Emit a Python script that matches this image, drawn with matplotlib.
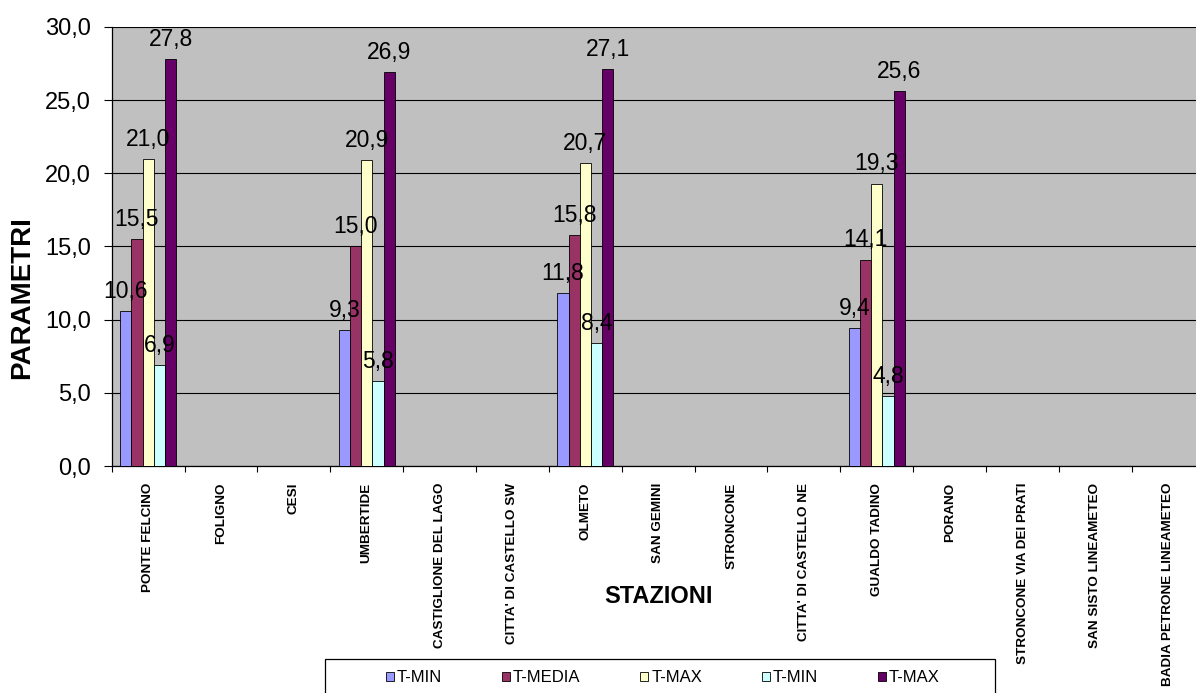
import numpy as np
import matplotlib.pyplot as plt
from matplotlib.patches import Patch, Rectangle

plt.rcParams['font.family'] = ['Liberation Sans', 'DejaVu Sans']

# stations on the x axis
stations = ["PONTE FELCINO", "FOLIGNO", "CESI", "UMBERTIDE", "CASTIGLIONE DEL LAGO",
            "CITTA' DI CASTELLO SW", "OLMETO", "SAN GEMINI", "STRONCONE",
            "CITTA' DI CASTELLO NE", "GUALDO TADINO", "PORANO",
            "STRONCONE VIA DEI PRATI", "SAN SISTO LINEAMETEO", "BADIA PETRONE LINEAMETEO"]

nan = np.nan
# values per series (empty stations = nan)
t_min   = [10.6, nan, nan, 9.3, nan, nan, 11.8, nan, nan, nan, 9.4, nan, nan, nan, nan]
t_media = [15.5, nan, nan, 15.0, nan, nan, 15.8, nan, nan, nan, 14.1, nan, nan, nan, nan]
t_max   = [21.0, nan, nan, 20.9, nan, nan, 20.7, nan, nan, nan, 19.3, nan, nan, nan, nan]
t_min2  = [6.9, nan, nan, 5.8, nan, nan, 8.4, nan, nan, nan, 4.8, nan, nan, nan, nan]
t_max2  = [27.8, nan, nan, 26.9, nan, nan, 27.1, nan, nan, nan, 25.6, nan, nan, nan, nan]

series_names = ["T-MIN", "T-MEDIA", "T-MAX", "T-MIN", "T-MAX"]
series = [t_min, t_media, t_max, t_min2, t_max2]
colors = ["#9999FF", "#993366", "#FFFFCC", "#CCFFFF", "#660066"]

fig = plt.figure(figsize=(11.96, 6.93), dpi=100)
ax = fig.add_axes([111.7/1196, 1-466/693, 1093/1196, 439/693])
ax.set_facecolor("#C0C0C0")

x = np.arange(len(stations))
w = 0.154
for k, (vals, c) in enumerate(zip(series, colors)):
    vals = np.array(vals, dtype=float)
    pos = x + (k - 2) * w
    ax.bar(pos, np.nan_to_num(vals), width=w, color=c, edgecolor="black",
           linewidth=0.6, zorder=3)
    for px, v in zip(pos, vals):
        if not np.isnan(v):
            ax.annotate(f"{v:.1f}".replace(".", ","), (px, v), xytext=(0, 9.5),
                        textcoords="offset points", ha="center", va="baseline",
                        fontsize=16.5, zorder=5)

ax.set_xlim(-0.5, len(stations) - 0.5)
ax.set_ylim(0, 30)
ax.set_yticks(np.arange(0, 31, 5))
ax.set_yticklabels([f"{v:.1f}".replace(".", ",") for v in np.arange(0, 31, 5)])
ax.tick_params(axis="y", length=6, width=0.8, pad=9, labelsize=17)
ax.yaxis.grid(True, color="black", linewidth=0.8, zorder=1)
ax.set_axisbelow(True)

ax.set_xticks(np.arange(-0.5, len(stations), 1))
ax.set_xticklabels([])
ax.tick_params(axis="x", which="major", length=4, width=0.8)
ax.set_xticks(x, minor=True)
ax.set_xticklabels(stations, minor=True, rotation=90, va="top", ha="center",
                   fontsize=9.7, fontweight="bold")
ax.tick_params(axis="x", which="minor", length=0, pad=12)

for s in ["top", "right"]:
    ax.spines[s].set_visible(False)
for s in ["left", "bottom"]:
    ax.spines[s].set_linewidth(0.9)

ax.set_ylabel("PARAMETRI", fontsize=20, fontweight="bold", va="center")
ax.yaxis.set_label_coords(-0.082, 0.384)
ax.set_xlabel("STAZIONI", fontsize=17, fontweight="bold", va="center")
ax.xaxis.set_label_coords(0.5, -0.298)

# legend box (runs off the bottom of the picture)
fig.patches.append(Rectangle((324.7/1196, -0.05), (995-324.7)/1196, 0.05 + 1-659/693,
                             transform=fig.transFigure, facecolor="white",
                             edgecolor="black", linewidth=0.9))
handles = [Patch(facecolor=c, edgecolor="black", linewidth=0.6) for c in colors]
fig.legend(handles, series_names, ncol=5, frameon=False, loc="center",
           bbox_to_anchor=(663/1196, 1-678/693), fontsize=12,
           handlelength=0.45, handleheight=0.45, handletextpad=0.2,
           columnspacing=3.6)

fig.savefig("out.png", dpi=100)
